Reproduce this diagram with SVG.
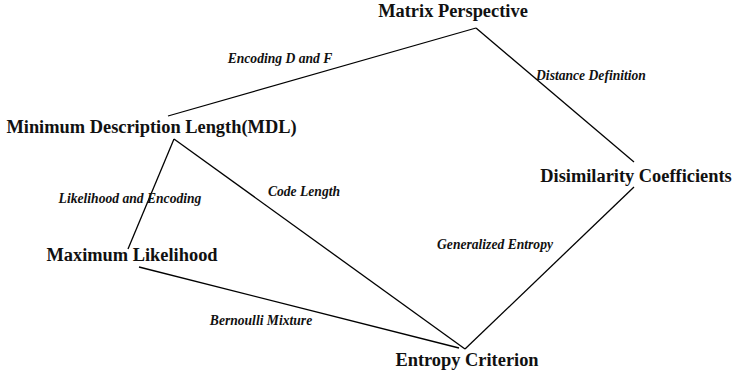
<svg xmlns="http://www.w3.org/2000/svg" width="736" height="374" viewBox="0 0 736 374">
<style>
.node{font-family:'Liberation Serif','DejaVu Serif',serif;font-weight:700;font-size:18.4px;fill:#111;text-anchor:middle}
.lbl{font-family:'Liberation Serif','DejaVu Serif',serif;font-weight:700;font-style:italic;font-size:13.6px;fill:#111;text-anchor:middle}
.edge{stroke:#000;stroke-width:1.3;fill:none}
</style>
<rect width="736" height="374" fill="#fff"/>
<g id="connectors">
<line class="edge" x1="168" y1="116" x2="476" y2="28"/>
<line class="edge" x1="476" y1="28" x2="634" y2="162"/>
<line class="edge" x1="174" y1="139" x2="128" y2="249"/>
<line class="edge" x1="174" y1="139" x2="465" y2="349"/>
<line class="edge" x1="139" y1="267" x2="459" y2="348"/>
<line class="edge" x1="634" y1="187" x2="465" y2="349"/>
<text class="lbl" x="280" y="63">Encoding D and F</text>
<text class="lbl" x="591" y="80">Distance Definition</text>
<text class="lbl" x="130" y="203">Likelihood and Encoding</text>
<text class="lbl" x="304" y="196">Code Length</text>
<text class="lbl" x="495" y="249">Generalized Entropy</text>
<text class="lbl" x="261" y="325">Bernoulli Mixture</text>
</g>
<g id="matrix"><text class="node" x="453" y="17">Matrix Perspective</text></g>
<g id="mdl"><text class="node" x="151.5" y="133">Minimum Description Length(MDL)</text></g>
<g id="disim"><text class="node" x="636" y="182">Disimilarity Coefficients</text></g>
<g id="ml"><text class="node" x="132" y="261">Maximum Likelihood</text></g>
<g id="entropy"><text class="node" x="467" y="366">Entropy Criterion</text></g>
</svg>
